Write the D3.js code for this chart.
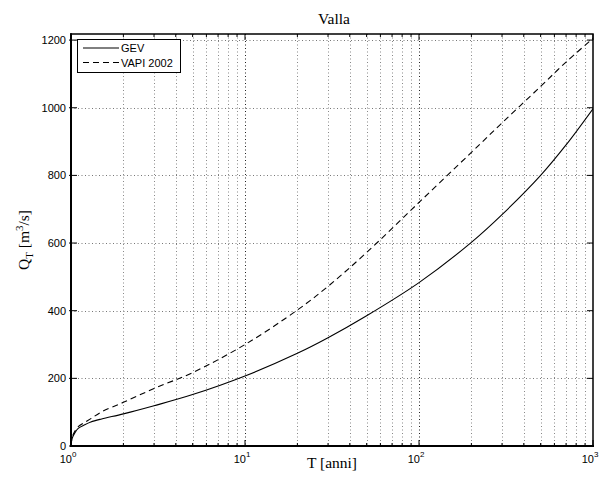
<!DOCTYPE html>
<html>
<head>
<meta charset="utf-8">
<script src="https://cdn.jsdelivr.net/npm/d3@7"></script>
<style>
  body { margin: 0; background: #fff; }
  svg { display: block; }
</style>
</head>
<body>
<svg id="chart" width="604" height="486"></svg>
<script>
// ---- data ----
const returnPeriods = [1.001, 1.01, 1.02, 1.05, 1.1, 1.2, 1.3, 1.5, 2, 3, 5, 10, 20, 30, 50, 100, 200, 300, 500, 700, 1000];
const gevValues     = [2, 18, 25, 38, 52, 63, 71, 80, 95, 119, 152, 207, 274, 320, 385, 483, 602, 684, 800, 890, 997];
const vapiValues    = [2, 20, 29, 43, 57, 70, 81, 101, 129, 170, 217, 300, 402, 472, 572, 720, 868, 955, 1063, 1135, 1205];
const seriesNames   = ["GEV", "VAPI 2002"];
const yTicks        = [0, 200, 400, 600, 800, 1000, 1200];
const xMajorTicks   = [1, 10, 100, 1000];
const xDomain       = [1, 1000];
const yDomain       = [0, 1218];
const titleText     = "Valla";

// ---- layout ----
const svg = d3.select("#chart");
const L = 71, R = 593, T = 34, B = 446;

const x = d3.scaleLog().domain(xDomain).range([L, R]);
const y = d3.scaleLinear().domain(yDomain).range([B, T]);

// minor ticks on log axis
const xMinor = [];
for (let d = 1; d < 1000; d *= 10) for (let k = 2; k <= 9; k++) xMinor.push(d * k);

// grid
const grid = svg.append("g");
xMinor.forEach(v => grid.append("line")
  .attr("x1", Math.round(x(v)) + 0.5).attr("x2", Math.round(x(v)) + 0.5)
  .attr("y1", T).attr("y2", B)
  .attr("stroke", "#888").attr("stroke-width", 1).attr("stroke-dasharray", "1,2.5"));
xMajorTicks.slice(1, -1).forEach(v => grid.append("line")
  .attr("x1", Math.round(x(v)) + 0.5).attr("x2", Math.round(x(v)) + 0.5)
  .attr("y1", T).attr("y2", B)
  .attr("stroke", "#222").attr("stroke-width", 1).attr("stroke-dasharray", "1,2.5"));
yTicks.slice(1).forEach(v => grid.append("line")
  .attr("x1", L).attr("x2", R)
  .attr("y1", Math.round(y(v)) + 0.5).attr("y2", Math.round(y(v)) + 0.5)
  .attr("stroke", "#777").attr("stroke-width", 1).attr("stroke-dasharray", "1,2.5"));

// curves
svg.append("clipPath").attr("id", "clip").append("rect")
  .attr("x", L).attr("y", T).attr("width", R - L).attr("height", B - T);

const line = vals => d3.line()
  .x((d, i) => x(returnPeriods[i]))
  .y(d => y(d))
  .curve(d3.curveCatmullRom.alpha(0.5))(vals);

const curves = svg.append("g").attr("clip-path", "url(#clip)");
curves.append("path").attr("d", line(gevValues))
  .attr("fill", "none").attr("stroke", "#000").attr("stroke-width", 1.1);
curves.append("path").attr("d", line(vapiValues))
  .attr("fill", "none").attr("stroke", "#000").attr("stroke-width", 1.1)
  .attr("stroke-dasharray", "6,4");

// axes box
const axes = svg.append("g");
axes.append("rect").attr("x", L).attr("y", T).attr("width", R - L).attr("height", B - T)
  .attr("fill", "none").attr("stroke", "#000").attr("stroke-width", 1.5);
axes.append("line").attr("x1", L).attr("x2", L).attr("y1", T - 0.75).attr("y2", B + 0.75)
  .attr("stroke", "#000").attr("stroke-width", 2);
axes.append("line").attr("x1", L - 1).attr("x2", R + 1).attr("y1", B).attr("y2", B)
  .attr("stroke", "#000").attr("stroke-width", 2);

// ticks (inside, on all four sides)
const tick = (x1, y1, x2, y2) => axes.append("line")
  .attr("x1", x1).attr("y1", y1).attr("x2", x2).attr("y2", y2)
  .attr("stroke", "#000").attr("stroke-width", 1);
xMajorTicks.forEach(v => { const px = x(v); tick(px, B, px, B - 6); tick(px, T, px, T + 6); });
xMinor.forEach(v => { const px = x(v); tick(px, B, px, B - 3); tick(px, T, px, T + 3); });
yTicks.forEach(v => { const py = y(v); tick(L - 2, py, L + 6, py); tick(R, py, R - 6, py); });

// tick labels
const sans = "'Liberation Sans', Arial, Helvetica, sans-serif";
const serif = "'Liberation Serif', 'Times New Roman', Times, serif";

yTicks.forEach(v => svg.append("text")
  .attr("x", 66).attr("y", y(v) + 4)
  .attr("text-anchor", "end").attr("font-family", sans).attr("font-size", 11)
  .text(v));

xMajorTicks.forEach(v => {
  const t = svg.append("text")
    .attr("x", x(v) - 3).attr("y", 463)
    .attr("text-anchor", "middle").attr("font-family", sans).attr("font-size", 11);
  t.append("tspan").text("10");
  t.append("tspan").attr("font-size", 8).attr("dy", -6).text(Math.round(Math.log10(v)));
});

// title and axis labels
svg.append("text").attr("x", 334).attr("y", 24).attr("text-anchor", "middle")
  .attr("font-family", serif).attr("font-size", 15.5).text(titleText);

svg.append("text").attr("x", 332).attr("y", 468).attr("text-anchor", "middle")
  .attr("font-family", serif).attr("font-size", 15.5).text("T [anni]");

const yl = svg.append("text")
  .attr("transform", "translate(29," + ((T + B) / 2) + ") rotate(-90)")
  .attr("text-anchor", "middle").attr("font-family", serif).attr("font-size", 15.5);
yl.append("tspan").text("Q");
yl.append("tspan").attr("font-size", 11).attr("dy", 4).text("T");
yl.append("tspan").attr("dy", -4).text(" [m");
yl.append("tspan").attr("font-size", 11).attr("dy", -6).text("3");
yl.append("tspan").attr("dy", 6).text("/s]");

// legend
const lg = svg.append("g");
lg.append("rect").attr("x", 77.5).attr("y", 39.5).attr("width", 103).attr("height", 33)
  .attr("fill", "#fff").attr("stroke", "#000").attr("stroke-width", 1);
const legendRows = [
  { name: seriesNames[0], dash: null, ly: 48, ty: 52 },
  { name: seriesNames[1], dash: "6,4", ly: 62.5, ty: 66.5 }
];
legendRows.forEach(r => {
  const l = lg.append("line").attr("x1", 83).attr("x2", 119).attr("y1", r.ly).attr("y2", r.ly)
    .attr("stroke", "#000").attr("stroke-width", 1);
  if (r.dash) l.attr("stroke-dasharray", r.dash);
  lg.append("text").attr("x", 121).attr("y", r.ty).attr("font-family", sans).attr("font-size", 11)
    .text(r.name);
});
</script>
</body>
</html>
